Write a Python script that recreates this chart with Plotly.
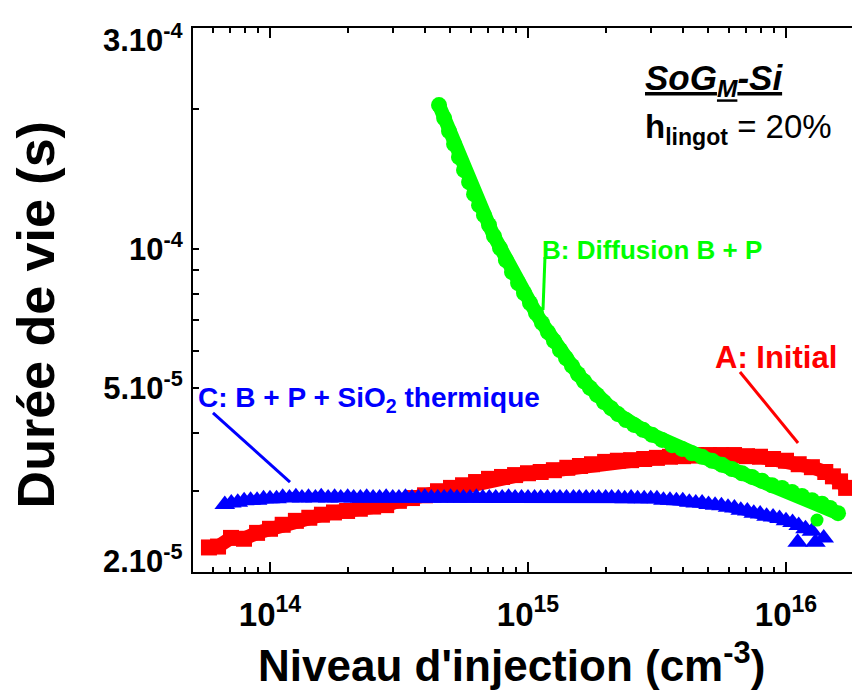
import plotly.graph_objects as go

# ---------------- data ----------------
# A: Initial (red squares)
red_x = [5.80e13, 6.29e13, 7.06e13, 7.93e13, 8.91e13, 1.00e14, 1.12e14, 1.26e14, 1.42e14, 1.59e14,
         1.77e14, 1.99e14, 2.23e14, 2.51e14, 2.82e14, 3.16e14, 3.55e14, 3.99e14, 4.48e14, 5.03e14,
         5.60e14, 6.29e14, 7.06e14, 7.93e14, 8.91e14, 1.00e15, 1.12e15, 1.26e15, 1.42e15, 1.59e15,
         1.77e15, 1.99e15, 2.23e15, 2.51e15, 2.82e15, 3.16e15, 3.55e15, 3.99e15, 4.48e15, 5.03e15,
         5.60e15, 6.29e15, 7.06e15, 7.93e15, 8.91e15, 1.00e16, 1.12e16, 1.26e16, 1.42e16, 1.52e16,
         1.62e16, 1.71e16]
red_y = [2.26e-5, 2.27e-5, 2.37e-5, 2.36e-5, 2.43e-5, 2.48e-5, 2.53e-5, 2.58e-5, 2.62e-5, 2.66e-5,
         2.69e-5, 2.71e-5, 2.74e-5, 2.77e-5, 2.79e-5, 2.85e-5, 2.89e-5, 2.93e-5, 2.99e-5, 3.04e-5,
         3.08e-5, 3.13e-5, 3.18e-5, 3.21e-5, 3.24e-5, 3.27e-5, 3.29e-5, 3.32e-5, 3.36e-5, 3.39e-5,
         3.42e-5, 3.46e-5, 3.48e-5, 3.49e-5, 3.51e-5, 3.53e-5, 3.55e-5, 3.56e-5, 3.58e-5, 3.58e-5,
         3.58e-5, 3.58e-5, 3.56e-5, 3.55e-5, 3.51e-5, 3.48e-5, 3.42e-5, 3.37e-5, 3.29e-5, 3.22e-5,
         3.14e-5, 3.04e-5]

# B: Diffusion B + P (green circles)
green_x = [4.52e14, 4.73e14, 4.94e14, 5.17e14, 5.40e14, 5.65e14, 5.91e14, 6.18e14, 6.46e14, 6.75e14,
           7.06e14, 7.38e14, 7.79e14, 8.21e14, 8.67e14, 9.15e14, 9.65e14, 1.018e15, 1.074e15, 1.133e15,
           1.195e15, 1.261e15, 1.330e15, 1.404e15, 1.481e15, 1.562e15, 1.649e15, 1.739e15, 1.851e15, 1.970e15,
           2.098e15, 2.233e15, 2.398e15, 2.576e15, 2.791e15, 3.024e15, 3.307e15, 3.615e15, 3.954e15, 4.322e15,
           4.725e15, 5.167e15, 5.648e15, 6.176e15, 6.753e15, 7.382e15, 8.072e15, 8.826e15, 9.650e15, 1.055e16,
           1.153e16, 1.261e16, 1.379e16, 1.481e16, 1.591e16]
green_y = [2.044e-4, 1.916e-4, 1.796e-4, 1.683e-4, 1.578e-4, 1.479e-4, 1.393e-4, 1.312e-4, 1.242e-4, 1.182e-4,
           1.125e-4, 1.065e-4, 1.003e-4, 9.45e-5, 8.90e-5, 8.43e-5, 8.02e-5, 7.63e-5, 7.26e-5, 6.91e-5,
           6.60e-5, 6.32e-5, 6.04e-5, 5.80e-5, 5.58e-5, 5.36e-5, 5.17e-5, 5.00e-5, 4.83e-5, 4.66e-5,
           4.52e-5, 4.39e-5, 4.26e-5, 4.16e-5, 4.06e-5, 3.96e-5, 3.86e-5, 3.76e-5, 3.69e-5, 3.61e-5,
           3.55e-5, 3.48e-5, 3.41e-5, 3.34e-5, 3.27e-5, 3.21e-5, 3.15e-5, 3.08e-5, 3.04e-5, 2.98e-5,
           2.92e-5, 2.86e-5, 2.81e-5, 2.75e-5, 2.68e-5]
green_low_x = [1.319e16]
green_low_y = [2.59e-5]

# C: B + P + SiO2 thermique (blue triangles)
blue_x = [6.68e13, 7.08e13, 7.50e13, 7.94e13, 8.41e13, 8.91e13, 9.44e13,
          1.00e14, 1.06e14, 1.12e14, 1.19e14, 1.26e14, 1.33e14, 1.41e14, 1.50e14, 1.58e14, 1.68e14,
          1.78e14, 1.88e14, 2.00e14, 2.11e14, 2.24e14, 2.37e14, 2.51e14, 2.66e14, 2.82e14, 2.99e14,
          3.16e14, 3.35e14, 3.55e14, 3.76e14, 3.98e14, 4.22e14, 4.47e14, 4.73e14, 5.01e14, 5.31e14,
          5.62e14, 5.96e14, 6.31e14, 6.68e14, 7.08e14, 7.50e14, 7.94e14, 8.41e14, 8.91e14, 9.44e14,
          1.00e15, 1.06e15, 1.12e15, 1.19e15, 1.26e15, 1.33e15, 1.41e15, 1.50e15, 1.58e15, 1.68e15,
          1.78e15, 1.88e15, 2.00e15, 2.11e15, 2.24e15, 2.37e15, 2.51e15, 2.66e15, 2.82e15, 2.99e15,
          3.16e15, 3.35e15, 3.55e15, 3.76e15, 3.98e15, 4.22e15, 4.47e15, 4.73e15, 5.01e15, 5.31e15,
          5.62e15, 5.96e15, 6.31e15, 6.68e15, 7.08e15, 7.50e15, 7.94e15, 8.41e15, 8.91e15, 9.44e15,
          1.00e16, 1.06e16, 1.12e16, 1.19e16, 1.26e16]
blue_y = [2.80e-5, 2.82e-5, 2.83e-5, 2.85e-5, 2.86e-5, 2.86e-5, 2.88e-5,
          2.88e-5, 2.88e-5, 2.90e-5, 2.89e-5, 2.91e-5, 2.89e-5, 2.90e-5, 2.89e-5, 2.91e-5, 2.89e-5,
          2.90e-5, 2.89e-5, 2.90e-5, 2.89e-5, 2.89e-5, 2.90e-5, 2.89e-5, 2.89e-5, 2.90e-5, 2.89e-5,
          2.89e-5, 2.90e-5, 2.89e-5, 2.89e-5, 2.90e-5, 2.89e-5, 2.89e-5, 2.89e-5, 2.90e-5, 2.89e-5,
          2.89e-5, 2.89e-5, 2.90e-5, 2.89e-5, 2.89e-5, 2.89e-5, 2.89e-5, 2.90e-5, 2.89e-5, 2.89e-5,
          2.89e-5, 2.89e-5, 2.89e-5, 2.89e-5, 2.89e-5, 2.89e-5, 2.89e-5, 2.89e-5, 2.89e-5, 2.89e-5,
          2.89e-5, 2.89e-5, 2.89e-5, 2.89e-5, 2.89e-5, 2.88e-5, 2.89e-5, 2.88e-5, 2.88e-5, 2.88e-5,
          2.88e-5, 2.86e-5, 2.86e-5, 2.85e-5, 2.85e-5, 2.83e-5, 2.82e-5, 2.82e-5, 2.80e-5, 2.79e-5,
          2.78e-5, 2.76e-5, 2.75e-5, 2.72e-5, 2.71e-5, 2.68e-5, 2.67e-5, 2.64e-5, 2.63e-5, 2.61e-5,
          2.58e-5, 2.56e-5, 2.52e-5, 2.48e-5, 2.45e-5]
blue_low_x = [1.11e16, 1.30e16, 1.40e16]
blue_low_y = [2.32e-5, 2.32e-5, 2.37e-5]

# axis ticks
x_major = [1e14, 1e15, 1e16]
x_major_text = ["10<sup>14</sup>", "10<sup>15</sup>", "10<sup>16</sup>"]
x_minor = [6e13, 7e13, 8e13, 9e13,
           2e14, 3e14, 4e14, 5e14, 6e14, 7e14, 8e14, 9e14,
           2e15, 3e15, 4e15, 5e15, 6e15, 7e15, 8e15, 9e15]
y_ticks = [2e-5, 3e-5, 4e-5, 5e-5, 6e-5, 7e-5, 8e-5, 9e-5, 1e-4, 2e-4, 3e-4]
# end labels (2.10^-5, 3.10^-4) are drawn pulled inside the axis span, as in the original
y_text = ["", "", "", "5.10<sup>-5</sup>", "", "", "", "",
          "10<sup>-4</sup>", "", ""]
y_end_labels = ["3.10<sup>-4</sup>", "2.10<sup>-5</sup>"]

FONT = "Liberation Sans, Arial, sans-serif"
RED, GREEN, BLUE = "#ff0000", "#00ff00", "#0000ff"

fig = go.Figure()
# dense measurement points drawn as overlapping markers (thick line fills gaps between them)
fig.add_trace(go.Scatter(x=red_x, y=red_y, mode="lines+markers", showlegend=False,
                         line=dict(color=RED, width=14),
                         marker=dict(symbol="square", size=16, color=RED, line=dict(width=0))))
fig.add_trace(go.Scatter(x=blue_x, y=blue_y, mode="lines+markers", showlegend=False,
                         line=dict(color=BLUE, width=9),
                         marker=dict(symbol="triangle-up", size=18, color=BLUE, line=dict(width=0))))
fig.add_trace(go.Scatter(x=blue_low_x, y=blue_low_y, mode="markers", showlegend=False,
                         marker=dict(symbol="triangle-up", size=18, color=BLUE, line=dict(width=0))))
fig.add_trace(go.Scatter(x=green_x, y=green_y, mode="lines+markers", showlegend=False,
                         line=dict(color=GREEN, width=14),
                         marker=dict(symbol="circle", size=16, color=GREEN, line=dict(width=0))))
fig.add_trace(go.Scatter(x=green_low_x, y=green_low_y, mode="markers", showlegend=False,
                         marker=dict(symbol="circle", size=13, color=GREEN, line=dict(width=0))))

fig.update_layout(
    width=852, height=691,
    margin=dict(l=193, r=0, t=28, b=119, autoexpand=False),
    paper_bgcolor="white", plot_bgcolor="white",
    font=dict(family=FONT, color="black"),
    xaxis=dict(type="log", range=[13.7016, 16.2558], showgrid=False, zeroline=False,
               automargin=False,
               showline=True, linecolor="black", linewidth=2, mirror="ticks",
               ticks="inside", ticklen=10, tickwidth=2, tickcolor="black",
               tickmode="array", tickvals=x_major, ticktext=x_major_text,
               tickfont=dict(size=33, family=FONT, color="black", weight="bold"),
               ticklabelstandoff=12,
               minor=dict(tickmode="array", tickvals=x_minor, ticks="inside", ticklen=5,
                          tickwidth=2, tickcolor="black", showgrid=False)),
    yaxis=dict(type="log", range=[-4.69897, -3.52288], showgrid=False, zeroline=False,
               automargin=False,
               showline=True, linecolor="black", linewidth=2, mirror=False,
               ticks="inside", ticklen=6, tickwidth=2, tickcolor="black",
               tickmode="array", tickvals=y_ticks, ticktext=y_text,
               tickfont=dict(size=31, family=FONT, color="black", weight="bold"),
               ticklabelstandoff=2),
)

def ann(text, x, y, size, color="black", xanchor="left", yanchor="middle", angle=0, bold=True):
    fig.add_annotation(text=text, x=x, y=y, xref="paper", yref="paper", showarrow=False,
                       xanchor=xanchor, yanchor=yanchor, textangle=angle,
                       font=dict(size=size, color=color, family=FONT,
                                 weight="bold" if bold else "normal"))

# y-axis end labels
ann(y_end_labels[0], -0.012, 0.982, 31, xanchor="right")
ann(y_end_labels[1], -0.012, 0.024, 31, xanchor="right")

# axis titles
ann("Niveau d'injection (cm<sup>-3</sup>)", 0.484, -0.167, 44, xanchor="center")
ann("Durée de vie (s)", -0.238, 0.472, 52, xanchor="center", angle=-90)

# in-plot texts
ann("<i><u>SoG<sub>M</sub>-Si</u></i>", 0.683, 0.905, 35)
ann("h<sub>lingot</sub><span style='font-weight:normal'> = 20%</span>", 0.683, 0.815, 33)
ann("B: Diffusion B + P", 0.5266, 0.592, 26, color=GREEN)
ann("A: Initial", 0.789, 0.395, 31, color=RED)
ann("C: B + P + SiO<sub>2</sub> thermique", 0.0046, 0.318, 28, color=BLUE)

# leader lines (paper coordinates)
def leader(x0, y0, x1, y1, color):
    fig.add_shape(type="line", xref="paper", yref="paper", x0=x0, y0=y0, x1=x1, y1=y1,
                  line=dict(color=color, width=3))

leader(0.5341, 0.5790, 0.5311, 0.4816, GREEN)
leader(0.8300, 0.3676, 0.9181, 0.2371, RED)
leader(0.0303, 0.2923, 0.1472, 0.1654, BLUE)

# remove the browser's default 8px page margin so the figure sits at the window's corner
fig.write_html("out.html", config={"displayModeBar": False},
               post_script="document.body.style.margin='0px';")
